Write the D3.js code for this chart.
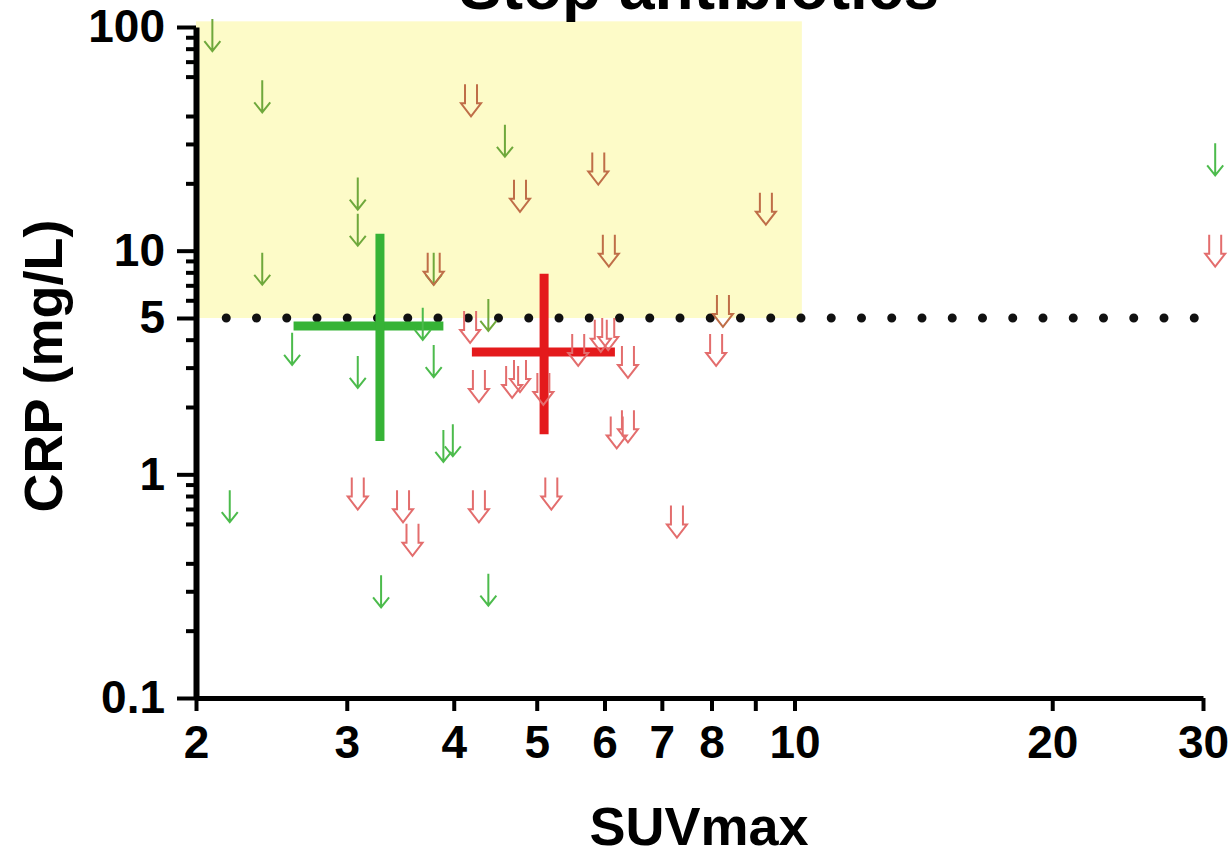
<!DOCTYPE html>
<html>
<head>
<meta charset="utf-8">
<script src="https://cdn.jsdelivr.net/npm/d3@7"></script>
<style>
  body { margin: 0; background: #fff; }
  text { font-family: "Liberation Sans", Arial, sans-serif; font-weight: bold; fill: #000; }
</style>
</head>
<body>
<div id="chart"></div>
<script>
// group "green" (single arrows)
const greenSUV = [2.09, 2.39, 3.09, 3.09, 2.39, 4.59, 2.59, 3.09, 3.79, 3.68, 3.89, 3.99, 2.19, 3.29, 4.39, 4.39, 31.0, 3.79];
const greenCRP = [92, 49, 18.0, 12.4, 8.3, 31, 3.64, 2.87, 3.21, 4.71, 1.34, 1.42, 0.72, 0.30, 0.305, 5.16, 25.6, 8.3];

// group "red" (double arrows)
const redSUV = [4.19, 4.78, 5.90, 6.07, 9.26, 3.79, 8.25, 4.18, 4.28, 4.68, 4.78, 5.59, 5.94, 6.06, 6.39, 5.09, 6.20, 6.39, 3.09, 3.49, 3.58, 4.28, 5.20, 7.29, 8.10, 31.0];
const redCRP = [47, 17.6, 23.3, 10.0, 15.4, 8.3, 5.38, 4.56, 2.48, 2.59, 2.75, 3.60, 4.16, 4.24, 3.18, 2.41, 1.54, 1.64, 0.82, 0.72, 0.51, 0.72, 0.82, 0.615, 3.60, 10.0];

// summary crosses: [centre, low, high]
const greenCrossSUV = [3.28, 2.60, 3.89];
const greenCrossCRP = [4.61, 1.41, 11.9];
const redCrossSUV = [5.10, 4.20, 6.17];
const redCrossCRP = [3.52, 1.51, 7.88];

// highlighted region and cut-off
const zoneSUV = [2, 10.2];
const zoneCRP = [5, 106];
const cutoffCRP = 5;

// ticks
const xTicks = [2, 3, 4, 5, 6, 7, 8, 9, 10, 20, 30];
const xLabels = [2, 3, 4, 5, 6, 7, 8, 10, 20, 30];
const yMajor = [0.1, 1, 5, 10, 100];

const width = 1231, height = 858;

const svg = d3.select("#chart")
  .append("svg")
    .attr("width", width)
    .attr("height", height);

// scales
const x = d3.scaleLog().domain([2, 30]).range([196, 1203]);
const y = d3.scaleLog().domain([0.1, 100]).range([698, 27]);

// yellow zone
svg.append("rect")
  .attr("x", x(zoneSUV[0]))
  .attr("y", y(zoneCRP[1]))
  .attr("width", x(zoneSUV[1]) - x(zoneSUV[0]))
  .attr("height", y(zoneCRP[0]) - y(zoneCRP[1]))
  .attr("fill", "#fdfbc8");

// dotted cut-off line
svg.append("line")
  .attr("x1", x(2) + 30.25)
  .attr("x2", x(30))
  .attr("y1", y(cutoffCRP))
  .attr("y2", y(cutoffCRP))
  .attr("stroke", "#111")
  .attr("stroke-width", 9)
  .attr("stroke-linecap", "round")
  .attr("stroke-dasharray", "0 30.25");

// crosses
function cross(suv, crp, color) {
  const g = svg.append("g").attr("stroke", color).attr("stroke-width", 9);
  g.append("line")
    .attr("x1", x(suv[1])).attr("x2", x(suv[2]))
    .attr("y1", y(crp[0])).attr("y2", y(crp[0]));
  g.append("line")
    .attr("x1", x(suv[0])).attr("x2", x(suv[0]))
    .attr("y1", y(crp[1])).attr("y2", y(crp[2]));
}
cross(greenCrossSUV, greenCrossCRP, "#36b336");
cross(redCrossSUV, redCrossCRP, "#e41a1c");

const inZone = (s, c) => s <= zoneSUV[1] && c > zoneCRP[0];

// single arrow markers
const greenData = greenSUV.map((s, i) => ({ suv: s, crp: greenCRP[i] }));
svg.append("g")
  .selectAll("path")
  .data(greenData)
  .join("path")
    .attr("transform", d => `translate(${x(d.suv)},${y(d.crp)})`)
    .attr("d", "M0,-16V16M-8,6L0,16L8,6")
    .attr("fill", "none")
    .attr("stroke", d => inZone(d.suv, d.crp) ? "#6fa83c" : "#4cbb4c")
    .attr("stroke-width", 2);

// double arrow markers
const redData = redSUV.map((s, i) => ({ suv: s, crp: redCRP[i] }));
svg.append("g")
  .selectAll("path")
  .data(redData)
  .join("path")
    .attr("transform", d => `translate(${x(d.suv)},${y(d.crp)})`)
    .attr("d", "M-6,-16V3L-10,3L0,16L10,3L6,3V-16")
    .attr("fill", "none")
    .attr("stroke", d => inZone(d.suv, d.crp) ? "#bf6e48" : "#e36d6d")
    .attr("stroke-width", 2);

// y axis - minor ticks
const yMinor = [];
[0.1, 1, 10].forEach(dec => d3.range(2, 10).forEach(k => { if (k !== 5) yMinor.push(dec * k); }));
svg.append("g")
  .attr("transform", `translate(${x(2)},0)`)
  .call(d3.axisLeft(y).tickValues(yMinor).tickSize(10).tickSizeOuter(0).tickFormat(""))
  .call(g => g.select(".domain").remove())
  .call(g => g.selectAll(".tick line").attr("stroke", "#000").attr("stroke-width", 4));

// y axis - major ticks
svg.append("g")
  .attr("transform", `translate(${x(2)},0)`)
  .call(d3.axisLeft(y).tickValues(yMajor).tickSize(19).tickSizeOuter(0).tickPadding(12)
    .tickFormat(d => d3.format("~g")(d)))
  .call(g => g.select(".domain").attr("stroke", "#000").attr("stroke-width", 6))
  .call(g => g.selectAll(".tick line").attr("stroke", "#000").attr("stroke-width", 4))
  .call(g => g.selectAll(".tick text").attr("font-size", 46).attr("font-family", null));

// x axis
svg.append("g")
  .attr("transform", `translate(0,${y(0.1)})`)
  .call(d3.axisBottom(x).tickValues(xTicks).tickSize(13).tickSizeOuter(0).tickPadding(14)
    .tickFormat(d => xLabels.includes(d) ? d : ""))
  .call(g => g.select(".domain").attr("stroke", "#000").attr("stroke-width", 5))
  .call(g => g.selectAll(".tick line").attr("stroke", "#000").attr("stroke-width", 4))
  .call(g => g.selectAll(".tick text").attr("font-size", 46).attr("font-family", null));

// titles
svg.append("text")
  .attr("x", 699)
  .attr("y", 9)
  .attr("text-anchor", "middle")
  .attr("font-size", 64)
  .text("Stop antibiotics");

svg.append("text")
  .attr("x", 699)
  .attr("y", 845)
  .attr("text-anchor", "middle")
  .attr("font-size", 54)
  .text("SUVmax");

svg.append("text")
  .attr("transform", "translate(62,366) rotate(-90)")
  .attr("text-anchor", "middle")
  .attr("font-size", 54)
  .text("CRP (mg/L)");
</script>
</body>
</html>
